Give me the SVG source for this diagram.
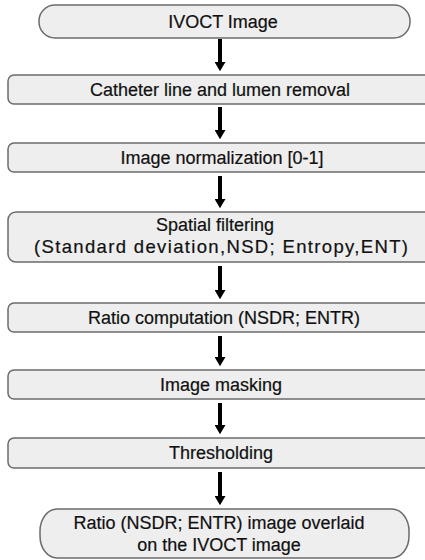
<svg xmlns="http://www.w3.org/2000/svg" width="425" height="560" viewBox="0 0 425 560">
<defs>
<style>
.box{fill:#eeeeee;stroke:#6b6b6b;stroke-width:1.5}
.t{font-family:"Liberation Sans",Arial,sans-serif;font-size:18px;fill:#111;stroke:#111;stroke-width:0.2;text-anchor:middle}
.c{stroke:#000;stroke-width:4;fill:none}
</style>
<marker id="ah" markerUnits="userSpaceOnUse" markerWidth="13" markerHeight="11" refX="0" refY="6.5" orient="auto" viewBox="0 0 11 13">
<path d="M0,0 L11,6.5 L0,13 Z" fill="#000"/>
</marker>
</defs>
<rect width="425" height="560" fill="#fff"/>
<g id="connectors">
<line class="c" x1="220" y1="39" x2="220" y2="62" marker-end="url(#ah)"/>
<line class="c" x1="220" y1="107" x2="220" y2="130" marker-end="url(#ah)"/>
<line class="c" x1="220" y1="176" x2="220" y2="199" marker-end="url(#ah)"/>
<line class="c" x1="220" y1="266" x2="220" y2="290" marker-end="url(#ah)"/>
<line class="c" x1="220" y1="336" x2="220" y2="357" marker-end="url(#ah)"/>
<line class="c" x1="220" y1="403" x2="220" y2="425" marker-end="url(#ah)"/>
<line class="c" x1="220" y1="472" x2="220" y2="496" marker-end="url(#ah)"/>
</g>
<g id="n1"><rect class="box" x="39" y="5" width="371" height="33" rx="16" ry="16"/><text class="t" x="223" y="28">IVOCT Image</text></g>
<g id="n2"><rect class="box" x="8" y="75" width="430" height="29" rx="6"/><text class="t" x="220" y="96">Catheter line and lumen removal</text></g>
<g id="n3"><rect class="box" x="8" y="143" width="430" height="29" rx="6"/><text class="t" x="222" y="164">Image normalization [0-1]</text></g>
<g id="n4"><rect class="box" x="8" y="212" width="430" height="50" rx="8"/><text class="t" x="215" y="231">Spatial filtering</text><text class="t" x="221" y="253" style="font-size:18.5px" textLength="374" lengthAdjust="spacing">(Standard deviation,NSD; Entropy,ENT)</text></g>
<g id="n5"><rect class="box" x="8" y="303" width="430" height="29" rx="6"/><text class="t" x="224" y="324">Ratio computation (NSDR; ENTR)</text></g>
<g id="n6"><rect class="box" x="8" y="370" width="430" height="29" rx="6"/><text class="t" x="221" y="391">Image masking</text></g>
<g id="n7"><rect class="box" x="8" y="438" width="430" height="30" rx="6"/><text class="t" x="221" y="459">Thresholding</text></g>
<g id="n8"><rect class="box" x="40" y="509" width="369" height="49" rx="17" ry="22"/><text class="t" x="219" y="529">Ratio (NSDR; ENTR) image overlaid</text><text class="t" x="219" y="551">on the IVOCT image</text></g>
</svg>
